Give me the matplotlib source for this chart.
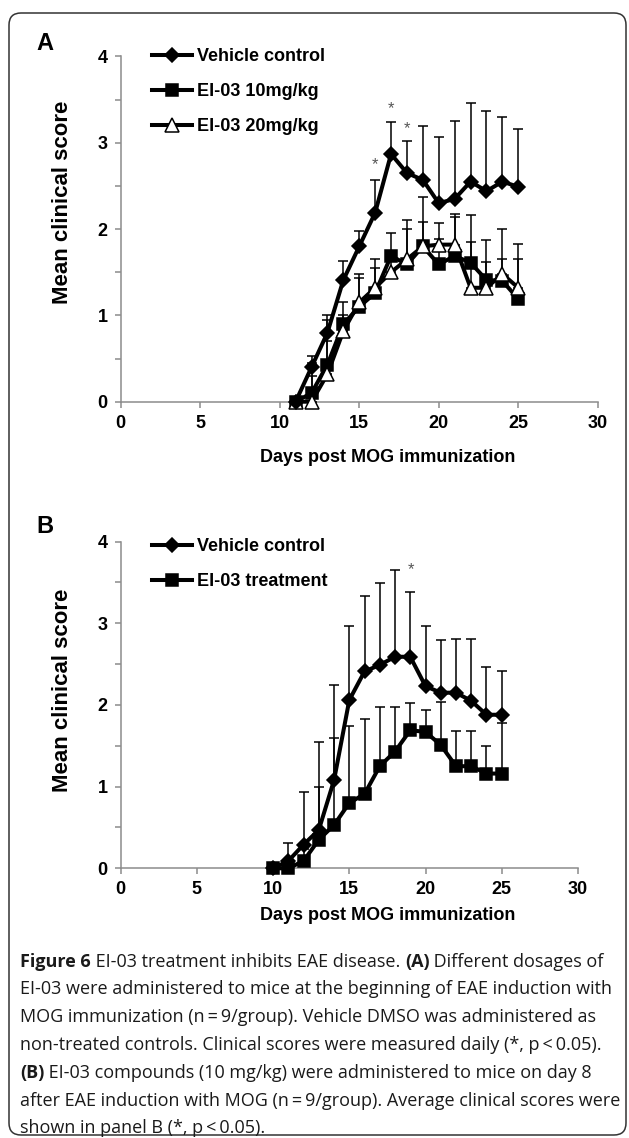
import numpy as np
import matplotlib.pyplot as plt
from matplotlib.ticker import MultipleLocator
from matplotlib.patches import FancyBboxPatch

# panel A data (days 11-25)
days_a = list(range(11, 26))
vehicle_a = [0, 0.40, 0.80, 1.41, 1.80, 2.19, 2.87, 2.65, 2.57, 2.30, 2.35, 2.55, 2.44, 2.55, 2.49]
vehicle_a_err = [0, 0.13, 0.20, 0.22, 0.18, 0.38, 0.37, 0.37, 0.62, 0.77, 0.90, 0.91, 0.93, 0.75, 0.67]
ei10_a = [0, 0.10, 0.43, 0.90, 1.10, 1.26, 1.69, 1.59, 1.80, 1.59, 1.69, 1.61, 1.41, 1.40, 1.19]
ei10_a_err = [0, 0.35, 0.52, 0.25, 0.38, 0.39, 0.27, 0.51, 0.28, 0.29, 0.48, 0.55, 0.21, 0.25, 0.46]
ei20_a = [0, 0, 0.32, 0.82, 1.15, 1.32, 1.50, 1.65, 1.80, 1.82, 1.82, 1.32, 1.32, 1.48, 1.32]
ei20_a_err = [0, 0.30, 0.38, 0.18, 0.28, 0.23, 0.20, 0.35, 0.57, 0.25, 0.32, 0.53, 0.55, 0.52, 0.51]
stars_a_x = [16, 17, 18]
stars_a_y = [2.75, 3.40, 3.16]

# panel B data (days 10-25)
days_b = list(range(10, 26))
vehicle_b = [0, 0.09, 0.29, 0.47, 1.08, 2.06, 2.41, 2.49, 2.59, 2.59, 2.23, 2.15, 2.15, 2.05, 1.88, 1.88]
vehicle_b_err = [0, 0.22, 0.64, 1.08, 1.16, 0.91, 0.92, 1.00, 1.06, 0.79, 0.74, 0.64, 0.66, 0.76, 0.58, 0.53]
treat_b = [0, 0, 0.09, 0.35, 0.53, 0.80, 0.91, 1.25, 1.43, 1.69, 1.67, 1.51, 1.25, 1.25, 1.16, 1.16]
treat_b_err = [0, 0, 0.15, 0.65, 1.07, 0.94, 0.92, 0.72, 0.54, 0.33, 0.27, 0.53, 0.43, 0.43, 0.34, 0.62]
stars_b_x = [19.05]
stars_b_y = [3.66]

caption = [
    [("Figure 6", True), (" EI-03 treatment inhibits EAE disease. ", False), ("(A)", True), (" Different dosages of", False)],
    [("EI-03 were administered to mice at the beginning of EAE induction with", False)],
    [("MOG immunization (n\u2009=\u20099/group). Vehicle DMSO was administered as", False)],
    [("non-treated controls. Clinical scores were measured daily (*, p\u2009<\u20090.05).", False)],
    [("(B)", True), (" EI-03 compounds (10 mg/kg) were administered to mice on day 8", False)],
    [("after EAE induction with MOG (n\u2009=\u20099/group). Average clinical scores were", False)],
    [("shown in panel B (*, p\u2009<\u20090.05).", False)],
]

W, H = 629, 1138
plt.rcParams['font.family'] = ['Liberation Sans', 'DejaVu Sans']
fig = plt.figure(figsize=(W / 100, H / 100), dpi=100)

frame = FancyBboxPatch((0.09, 0.03), 6.17, 11.22, boxstyle='round,pad=0,rounding_size=0.12',
                       transform=fig.dpi_scale_trans, fill=False, ec='#333333', lw=1.1)
fig.add_artist(frame)


def px_axes(x0, x1, y_top, y_bot):
    return fig.add_axes([x0 / W, 1 - y_bot / H, (x1 - x0) / W, (y_bot - y_top) / H])


def style(ax):
    ax.set_xlim(0, 30)
    ax.set_ylim(0, 4)
    for s in ['top', 'right']:
        ax.spines[s].set_visible(False)
    for s in ['left', 'bottom']:
        ax.spines[s].set_color('#8c8c8c')
        ax.spines[s].set_linewidth(1.1)
    ax.xaxis.set_major_locator(MultipleLocator(5))
    ax.yaxis.set_major_locator(MultipleLocator(1))
    ax.yaxis.set_minor_locator(MultipleLocator(0.5))
    ax.tick_params(which='both', direction='out', length=4.5, width=1.1, color='#8c8c8c',
                   labelsize=13, pad=5)
    for lab in ax.get_xticklabels() + ax.get_yticklabels():
        lab.set_fontweight('bold')
    ax.patch.set_alpha(0)


def series(ax, x, y, err, marker, ms, mfc, label, z):
    x = np.array(x)
    y = np.array(y)
    err = np.array(err)
    m = err > 0
    ax.errorbar(x[m], y[m], yerr=[np.zeros(m.sum()), err[m]], fmt='none', ecolor='black',
                elinewidth=1.1, capsize=3.6, capthick=1.1, zorder=z, clip_on=False)
    ax.plot(x, y, color='black', lw=2.9, marker=marker, ms=ms, mfc=mfc, mec='black', mew=1.1,
            label=label, zorder=z + 1, clip_on=False)


leg_kw = dict(loc='upper left', bbox_transform=fig.transFigure, frameon=False, borderpad=0,
              borderaxespad=0, handlelength=2.2, handletextpad=0.3, labelspacing=1.0,
              numpoints=1, prop={'weight': 'bold', 'size': 13})

ax_a = px_axes(120.7, 597.8, 56.5, 401.7)
style(ax_a)
series(ax_a, days_a, vehicle_a, vehicle_a_err, 'D', 6.8, 'black', 'Vehicle control', 5)
series(ax_a, days_a, ei10_a, ei10_a_err, 's', 9, 'black', 'EI-03 10mg/kg', 3)
series(ax_a, days_a, ei20_a, ei20_a_err, '^', 10, 'white', 'EI-03 20mg/kg', 4)
for sx, sy in zip(stars_a_x, stars_a_y):
    ax_a.text(sx, sy, '*', ha='center', va='center', fontsize=12, color='#555555')
h, l = ax_a.get_legend_handles_labels()
ax_a.legend(h, l, bbox_to_anchor=(152 / W, 1 - 48 / H), **leg_kw)

ax_b = px_axes(120.7, 577.9, 541.6, 868.3)
style(ax_b)
series(ax_b, days_b, vehicle_b, vehicle_b_err, 'D', 6.8, 'black', 'Vehicle control', 5)
series(ax_b, days_b, treat_b, treat_b_err, 's', 9, 'black', 'EI-03 treatment', 3)
for sx, sy in zip(stars_b_x, stars_b_y):
    ax_b.text(sx, sy, '*', ha='center', va='center', fontsize=12, color='#555555')
ax_b.legend(bbox_to_anchor=(152 / W, 1 - 538 / H), **leg_kw)

# panel letters and axis labels
for letter, y in [('A', 43), ('B', 527)]:
    fig.text(45 / W, 1 - y / H, letter, ha='center', va='center', fontsize=17, fontweight='bold')
for y in [202, 690]:
    fig.text(62 / W, 1 - y / H, 'Mean clinical score', rotation=90, ha='center', va='center',
             fontsize=16, fontweight='bold')
for y in [458, 915]:
    fig.text(388 / W, 1 - y / H, 'Days post MOG immunization', ha='center', va='center',
             fontsize=13, fontweight='bold')

# caption with bold runs
renderer = fig.canvas.get_renderer()
cap_fs = 13
y = 961.7
for line in caption:
    x = 20
    for txt, bold in line:
        t = fig.text(x / W, 1 - y / H, txt, ha='left', va='center', fontsize=cap_fs,
                     family=['Open Sans', 'DejaVu Sans'], fontweight='bold' if bold else 'normal',
                     color='#1a1a1a')
        x += t.get_window_extent(renderer).width
    y += 27.8

fig.savefig('out.png', dpi=100)
